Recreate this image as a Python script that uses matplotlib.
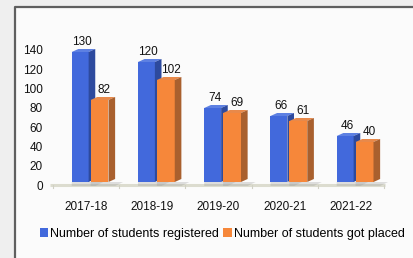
import numpy as np
import matplotlib.pyplot as plt
from matplotlib.patches import Polygon, Rectangle, Patch
from matplotlib.lines import Line2D

plt.rcParams['font.family'] = ['Liberation Sans', 'DejaVu Sans']

years = ['2017-18', '2018-19', '2019-20', '2020-21', '2021-22']
registered = [130, 120, 74, 66, 46]
placed = [82, 102, 69, 61, 40]
series_names = ['Number of students registered', 'Number of students got placed']

W, H = 414, 258
fig = plt.figure(figsize=(W / 100, H / 100), dpi=100)
fig.patch.set_facecolor('#efefef')
# chart frame (runs past right and bottom edges)
fig.patches.append(Rectangle((15 / W, 0), 1, 1 - 7 / H, transform=fig.transFigure,
                             facecolor='#fbfbfb', lw=0, zorder=-5))
fig.lines.append(Line2D([15 / W, 15 / W, 1.0], [0, 1 - 7 / H, 1 - 7 / H], transform=fig.transFigure,
                        color='#5f5f5f', lw=1.6, zorder=-4))

# back wall axis carrying the value ticks
ax_wall = fig.add_axes([50 / W, (H - 185) / H, 340 / W, 135 / H])
ax_wall.set_ylim(0, 140)
ax_wall.set_yticks(np.arange(0, 141, 20))
ax_wall.set_xticks([])
ax_wall.tick_params(axis='y', length=0, pad=5, labelsize=8.5, labelcolor='#111111')
ax_wall.patch.set_visible(False)
for s in ax_wall.spines.values():
    s.set_visible(False)

# bars axis
ax = fig.add_axes([50 / W, (H - 190) / H, 340 / W, 178 / H])
ax.set_xlim(-0.543, 4.589)
ax.set_ylim(-8, 170)
ax.patch.set_visible(False)
for s in ax.spines.values():
    s.set_visible(False)
ax.set_yticks([])
x = np.arange(len(years))
ax.set_xticks(x)
ax.set_xticklabels(years, fontsize=8.5, color='#111111')
ax.tick_params(axis='x', length=0, pad=8)

# floor
ax.plot([-0.543, 4.51], [-3, -3], color='#dcdccf', lw=2.2, solid_capstyle='butt', zorder=1)
for b in [-0.5, 0.5, 1.5, 2.5, 3.5, 4.5]:
    ax.plot([b, b], [-3, -6], color='#d0d0c4', lw=0.8, zorder=1)

dx, dy = 0.1, 3
styles = [
    # offset, width, front, top, side, label shift
    (-0.215, 0.255, '#4269dc', '#5d80e2', '#2d4a9e', 0.03),
    (0.07, 0.27, '#f6873a', '#e8894a', '#a9602e', 0.07),
]
for k, vals in enumerate([registered, placed]):
    off, w, front, top, side, shift = styles[k]
    bars = ax.bar(x + off, vals, width=w, align='edge', color=front, zorder=3 + 2 * k, lw=0)
    for r in bars:
        x0, x1, h = r.get_x(), r.get_x() + r.get_width(), r.get_height()
        # floor shadow
        ax.add_patch(Polygon([(x1, 0), (x1 + dx * 2.2, 0), (x1 + dx, -4), (x0, -4), (x0, 0)],
                             closed=True, facecolor='#9a9a9a', alpha=0.3, lw=0, zorder=2))
        ax.add_patch(Polygon([(x0, h), (x0 + dx, h + dy), (x1 + dx, h + dy), (x1, h)],
                             closed=True, facecolor=top, lw=0, zorder=3 + 2 * k))
        ax.add_patch(Polygon([(x1, 0), (x1 + dx, dy), (x1 + dx, h + dy), (x1, h)],
                             closed=True, facecolor=side, lw=0, zorder=3 + 2 * k))
        ax.text((x0 + x1) / 2 + shift, h + dy + 1, str(h), ha='center', va='bottom',
                fontsize=8.5, color='#111111', zorder=10)

handles = [Patch(facecolor='#4269dc'), Patch(facecolor='#f6873a')]
fig.legend(handles, series_names, loc='center', bbox_to_anchor=(222 / W, 1 - 234 / H), ncol=2,
           frameon=False, fontsize=9, handlelength=0.7, handleheight=0.7, handletextpad=0.15,
           columnspacing=0.3, borderpad=0)

plt.savefig('out.png', dpi=100)
